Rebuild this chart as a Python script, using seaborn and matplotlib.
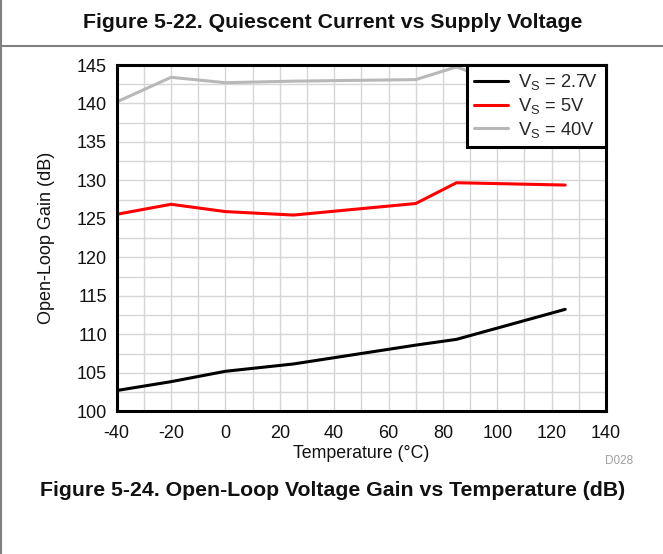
import matplotlib
matplotlib.use("Agg")
import matplotlib.pyplot as plt
from matplotlib.lines import Line2D
import seaborn as sns
import pandas as pd

# ---- data ----
temperature = [-40, -20, 0, 25, 70, 85, 125]
gain_2v7 = [102.7, 103.85, 105.2, 106.15, 108.6, 109.35, 113.25]
gain_5v = [125.6, 126.9, 125.95, 125.5, 127.0, 129.7, 129.4]
gain_40v = [140.2, 143.4, 142.7, 142.9, 143.1, 144.75, 139.5]
series_labels = ["V$_\\mathregular{S}$ = 2.7V", "V$_\\mathregular{S}$ = 5V", "V$_\\mathregular{S}$ = 40V"]
x_ticks = [-40, -20, 0, 20, 40, 60, 80, 100, 120, 140]
y_ticks = [100, 105, 110, 115, 120, 125, 130, 135, 140, 145]

df = pd.concat([
    pd.DataFrame({"Temperature": temperature, "Gain": g, "Series": lab})
    for g, lab in zip([gain_2v7, gain_5v, gain_40v], series_labels)
])

sns.set_theme(style="white")
plt.rcParams["font.family"] = ["Liberation Sans", "DejaVu Sans"]
plt.rcParams["mathtext.fontset"] = "custom"
plt.rcParams["mathtext.rm"] = "Liberation Sans"
plt.rcParams["axes.unicode_minus"] = False

W, H = 663, 554
fig = plt.figure(figsize=(W / 100, H / 100), dpi=100)
ax = fig.add_axes([116.7 / W, 1 - 411.3 / H, (606 - 116.7) / W, (411.3 - 65) / H])

palette = {series_labels[0]: "#000000", series_labels[1]: "#ff0000", series_labels[2]: "#b8b8b8"}
sns.lineplot(data=df, x="Temperature", y="Gain", hue="Series", palette=palette,
             linewidth=2.2, ax=ax, legend=False, zorder=3)

ax.set_xlim(-40, 140)
ax.set_ylim(100, 145)
ax.set_xticks(x_ticks)
ax.set_yticks(y_ticks)
ax.set_xticks(range(-40, 141, 10), minor=True)
ax.set_yticks([100 + 2.5 * i for i in range(19)], minor=True)
ax.grid(True, which="both", color="#d6d6d6", linewidth=1.0, zorder=0)
ax.set_axisbelow(True)
for s in ax.spines.values():
    s.set_color("black")
    s.set_linewidth(2.2)
    s.set_zorder(5)
ax.tick_params(axis="both", which="both", length=0, labelsize=13, colors="#111111")
ax.tick_params(axis="x", pad=10)
ax.tick_params(axis="y", pad=7)
ax.set_xlabel("Temperature (°C)", fontsize=12.8, labelpad=2, color="#111111")
ax.set_ylabel("Open-Loop Gain (dB)", fontsize=13, labelpad=16, color="#111111")

handles = [Line2D([0], [0], color=palette[l], lw=2.2) for l in series_labels]
leg = ax.legend(handles, series_labels, loc="upper right", fontsize=13.2,
                frameon=True, fancybox=False, framealpha=1, edgecolor="black",
                borderaxespad=0, handlelength=1.85, labelspacing=0.2,
                handletextpad=0.55, borderpad=0.4)
leg.get_frame().set_linewidth(2.2)
leg.set_zorder(10)

# page decorations
fig.text(0.502, 1 - 23 / H, "Figure 5-22. Quiescent Current vs Supply Voltage",
         ha="center", va="center", fontsize=15.3, fontweight="bold", color="#111111")
fig.add_artist(Line2D([0, 1], [1 - 45.5 / H] * 2, color="#808080", lw=1.5))
fig.add_artist(Line2D([0.5 / W, 0.5 / W], [0, 1], color="#808080", lw=1.5))
fig.text(619 / W, 1 - 461 / H, "D028", ha="center", va="center", fontsize=8.5, color="#a0a0a0")
fig.text(0.501, 1 - 490 / H, "Figure 5-24. Open-Loop Voltage Gain vs Temperature (dB)",
         ha="center", va="center", fontsize=15.3, fontweight="bold", color="#111111")

fig.savefig("out.png", dpi=100, facecolor="white")
